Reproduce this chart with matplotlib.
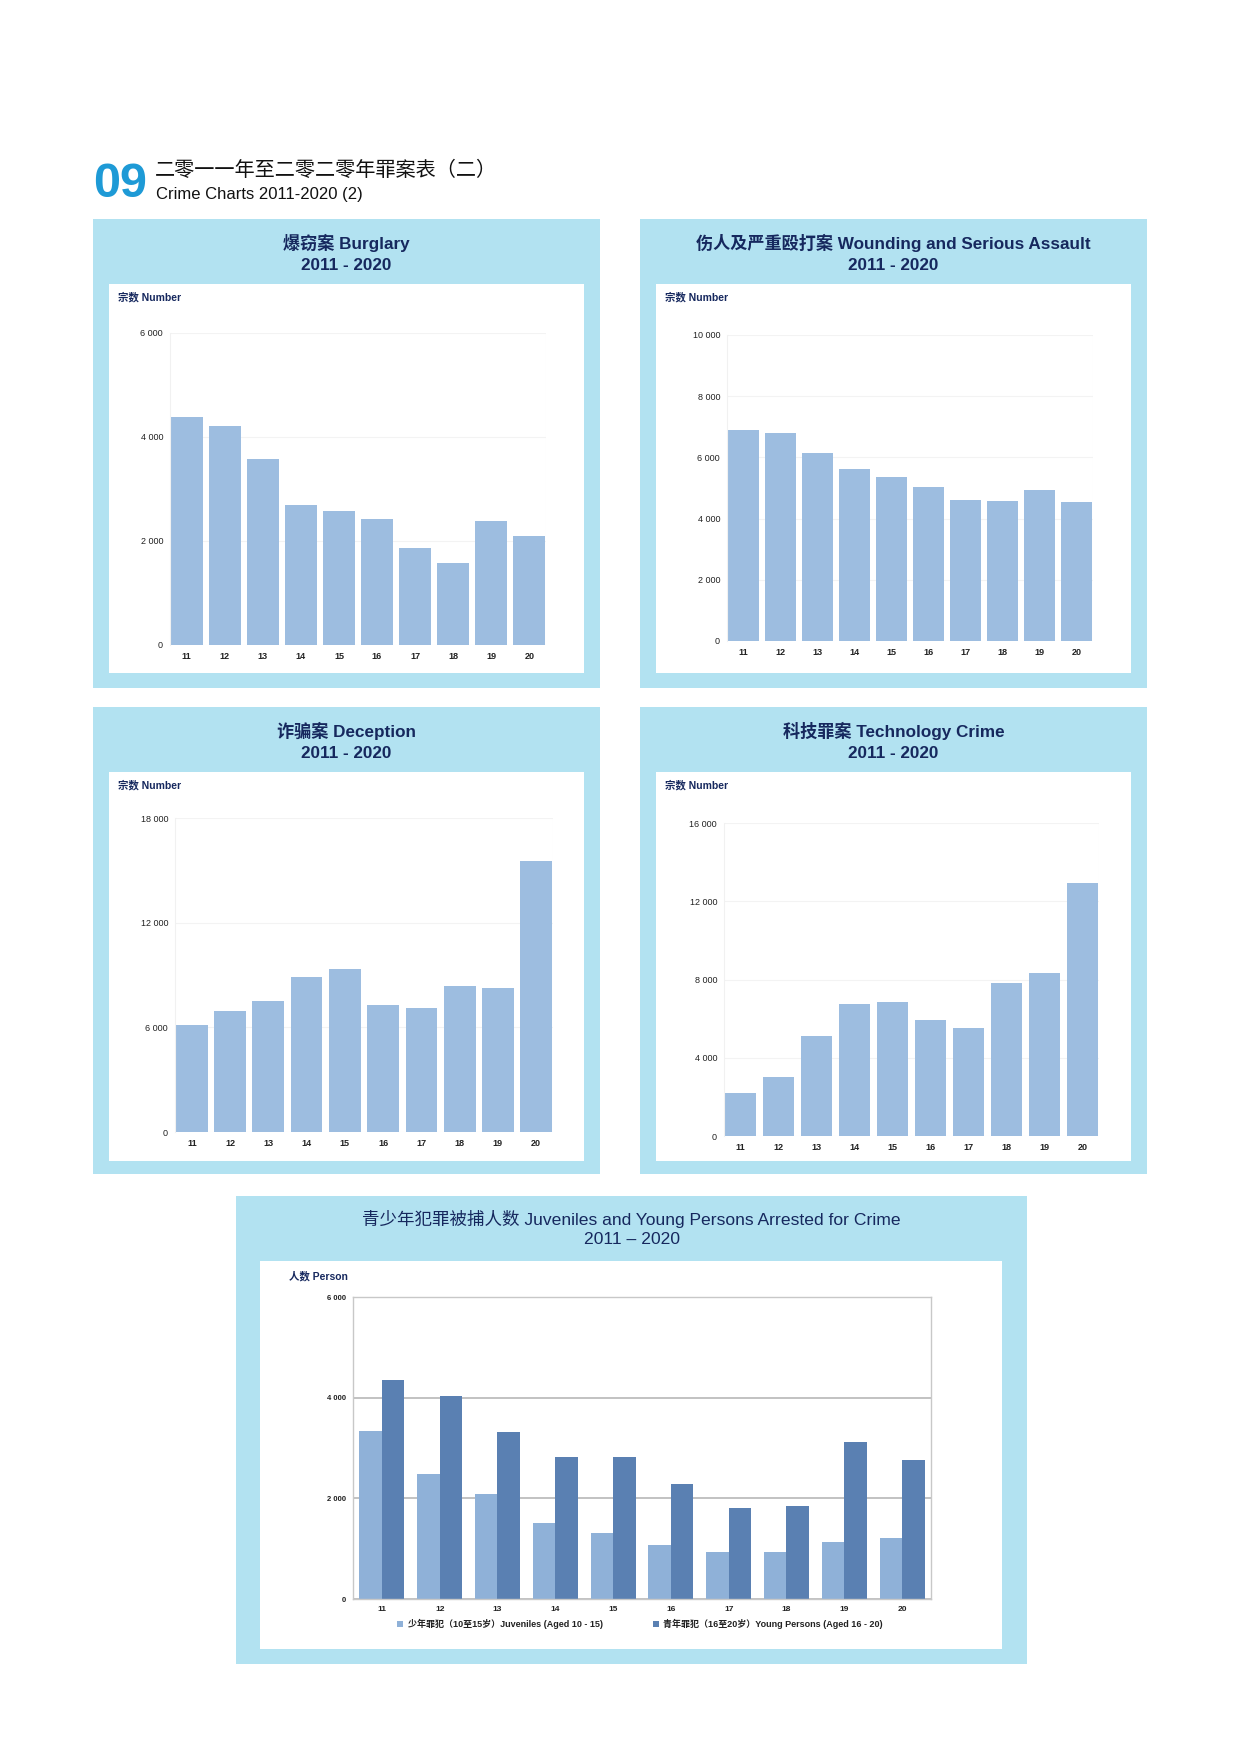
import matplotlib
matplotlib.use("Agg")
import matplotlib.pyplot as plt
from matplotlib.patches import Rectangle
import numpy as np

plt.rcParams['font.family'] = ['Liberation Sans', 'Noto Sans CJK SC', 'DejaVu Sans']

# ---------------- data ----------------
years = ["11", "12", "13", "14", "15", "16", "17", "18", "19", "20"]

burglary = [4380, 4215, 3576, 2693, 2578, 2424, 1874, 1574, 2392, 2092]
wounding = [6900, 6812, 6157, 5622, 5349, 5022, 4596, 4585, 4924, 4552]
deception = [6127, 6929, 7521, 8857, 9353, 7272, 7101, 8380, 8227, 15557]
technology = [2181, 2999, 5112, 6748, 6850, 5913, 5538, 7838, 8332, 12916]
juveniles = [3344, 2483, 2079, 1503, 1305, 1073, 927, 927, 1132, 1212]
young_persons = [4351, 4033, 3318, 2815, 2821, 2291, 1808, 1841, 3126, 2768]

titles_cn = ["爆窃案", "伤人及严重殴打案", "诈骗案", "科技罪案"]
titles_en = ["Burglary", "Wounding and Serious Assault", "Deception", "Technology Crime"]
yticks_list = [[0, 2000, 4000, 6000], [0, 2000, 4000, 6000, 8000, 10000],
               [0, 6000, 12000, 18000], [0, 4000, 8000, 12000, 16000]]
year_range = "2011 - 2020"
header_num = "09"
header_cn = "二零一一年至二零二零年罪案表（二）"
header_en = "Crime Charts 2011-2020 (2)"
ylabel_small = "宗数 Number"
bottom_title = "青少年犯罪被捕人数 Juveniles and Young Persons Arrested for Crime"
bottom_range = "2011 – 2020"
bottom_ylabel = "人数 Person"
bottom_yticks = [0, 2000, 4000, 6000]
legend_labels = ["少年罪犯（10至15岁）Juveniles (Aged 10 - 15)",
                 "青年罪犯（16至20岁）Young Persons (Aged 16 - 20)"]

# ---------------- style ----------------
W, H = 1240, 1754
PANEL = "#b2e2f1"
BAR = "#9dbde0"
NAVY = "#16285e"
BLUE_NUM = "#1e9ad6"
JUV = "#8fb1d8"
YNG = "#5a80b2"

fig = plt.figure(figsize=(W / 100, H / 100), dpi=100)
fig.patch.set_facecolor("white")


def rect(x, y, w, h):
    return [x / W, 1 - (y + h) / H, w / W, h / H]


def fx(x):
    return x / W


def fy(y):
    return 1 - y / H


def fmt(v):
    return f"{v:,}".replace(",", " ")


def panel_bg(x0, y0, x1, y1, wx0, wy0, wx1, wy1):
    fig.patches.append(Rectangle((fx(x0), fy(y1)), fx(x1) - fx(x0), fy(y0) - fy(y1),
                                 transform=fig.transFigure, facecolor=PANEL, edgecolor="none", zorder=-20))
    fig.patches.append(Rectangle((fx(wx0), fy(wy1)), fx(wx1) - fx(wx0), fy(wy0) - fy(wy1),
                                 transform=fig.transFigure, facecolor="white", edgecolor="none", zorder=-10))


# header
fig.text(fx(93), fy(197), header_num, fontsize=35, fontweight="bold", color=BLUE_NUM,
         ha="left", va="baseline")
fig.text(fx(155), fy(170), header_cn, fontsize=14.5, color="#111111", ha="left", va="center",
         family=['Noto Sans CJK SC', 'DejaVu Sans'])
fig.text(fx(156), fy(194), header_en, fontsize=12, color="#111111", ha="left", va="center")

panels = [
    dict(p=(93, 219, 600, 688), w=(109, 284, 584, 673), ax=(170, 333, 546, 645), ty=243, ly=297, lx=118),
    dict(p=(640, 219, 1147, 688), w=(656, 284, 1131, 673), ax=(727, 335, 1093, 641), ty=243, ly=297, lx=665),
    dict(p=(93, 707, 600, 1174), w=(109, 772, 584, 1161), ax=(175, 818, 553, 1132), ty=731, ly=785, lx=118),
    dict(p=(640, 707, 1147, 1174), w=(656, 772, 1131, 1161), ax=(724, 823, 1099, 1136), ty=731, ly=785, lx=665),
]
series = [burglary, wounding, deception, technology]

for i, pd_ in enumerate(panels):
    panel_bg(*pd_["p"], *pd_["w"])
    cx = (pd_["p"][0] + pd_["p"][2]) / 2
    fig.text(fx(cx), fy(pd_["ty"]), f"{titles_cn[i]} {titles_en[i]}", fontsize=12.3,
             fontweight="bold", color=NAVY, ha="center", va="center")
    fig.text(fx(cx), fy(pd_["ty"] + 22), year_range, fontsize=12.3, fontweight="bold",
             color=NAVY, ha="center", va="center")
    fig.text(fx(pd_["lx"]), fy(pd_["ly"]), ylabel_small, fontsize=7.5, color=NAVY,
             fontweight="bold", ha="left", va="center")
    x0, y0, x1, y1 = pd_["ax"]
    ax = fig.add_axes(rect(x0, y0, x1 - x0, y1 - y0))
    ax.set_facecolor("none")
    xs = np.arange(len(years))
    ax.bar(xs, series[i], width=0.83, color=BAR, zorder=2)
    ax.set_xlim(-0.44, len(years) - 0.56)
    yt = yticks_list[i]
    ax.set_ylim(0, yt[-1])
    ax.set_yticks(yt)
    ax.set_yticklabels([fmt(v) for v in yt], fontsize=6.5, color="#222222")
    ax.set_xticks(xs)
    ax.set_xticklabels(years, fontsize=6.5, fontweight="bold", color="#222222")
    ax.tick_params(axis="both", length=0, pad=5)
    ax.grid(axis="y", color="#f3f3f3", linewidth=0.8, zorder=0)
    for s in ["top", "right", "bottom"]:
        ax.spines[s].set_visible(False)
    ax.spines["left"].set_color("#f1f1f1")
    ax.spines["left"].set_linewidth(0.8)
    ax.axvline(len(years) - 0.56, color="#f6f6f6", linewidth=0.8, zorder=0)

# bottom panel
panel_bg(236, 1196, 1027, 1664, 260, 1261, 1002, 1649)
cxb = (236 + 1027) / 2
narrow = ['Liberation Sans Narrow', 'Liberation Sans', 'Noto Sans CJK SC', 'DejaVu Sans']
fig.text(fx(cxb), fy(1219), bottom_title, fontsize=12.6, color=NAVY, ha="center", va="center")
fig.text(fx(cxb), fy(1240), bottom_range, fontsize=12.6, color=NAVY, ha="center", va="center")
fig.text(fx(289), fy(1276), bottom_ylabel, fontsize=7.5, color=NAVY, fontweight="bold",
         ha="left", va="center")

bx0, by0, bx1, by1 = 353, 1297, 931, 1599
axb = fig.add_axes(rect(bx0, by0, bx1 - bx0, by1 - by0))
axb.set_facecolor("none")
xs = np.arange(len(years))
bw = 0.39
axb.bar(xs - bw / 2, juveniles, width=bw, color=JUV, zorder=2, label=legend_labels[0])
axb.bar(xs + bw / 2, young_persons, width=bw, color=YNG, zorder=2, label=legend_labels[1])
axb.set_xlim(-0.5, len(years) - 0.5)
axb.set_ylim(0, bottom_yticks[-1])
axb.set_yticks(bottom_yticks)
axb.set_yticklabels([fmt(v) for v in bottom_yticks], fontsize=5.5, fontweight="bold", color="#222222")
axb.set_xticks(xs)
axb.set_xticklabels(years, fontsize=6, fontweight="bold", color="#222222")
axb.tick_params(axis="both", length=0, pad=5)
axb.grid(axis="y", color="#bdbdbd", linewidth=1.3, zorder=0)
for s in axb.spines.values():
    s.set_color("#c8c8c8")
    s.set_linewidth(1.0)
leg = fig.legend(loc="center", bbox_to_anchor=(fx(640), fy(1624)), ncol=2, frameon=False,
                 fontsize=6.5, handlelength=0.7, handleheight=0.7, handletextpad=0.5,
                 columnspacing=5.5)
for t in leg.get_texts():
    t.set_fontweight("bold")
    t.set_color("#222222")

fig.savefig("out.png", dpi=100, facecolor="white")
